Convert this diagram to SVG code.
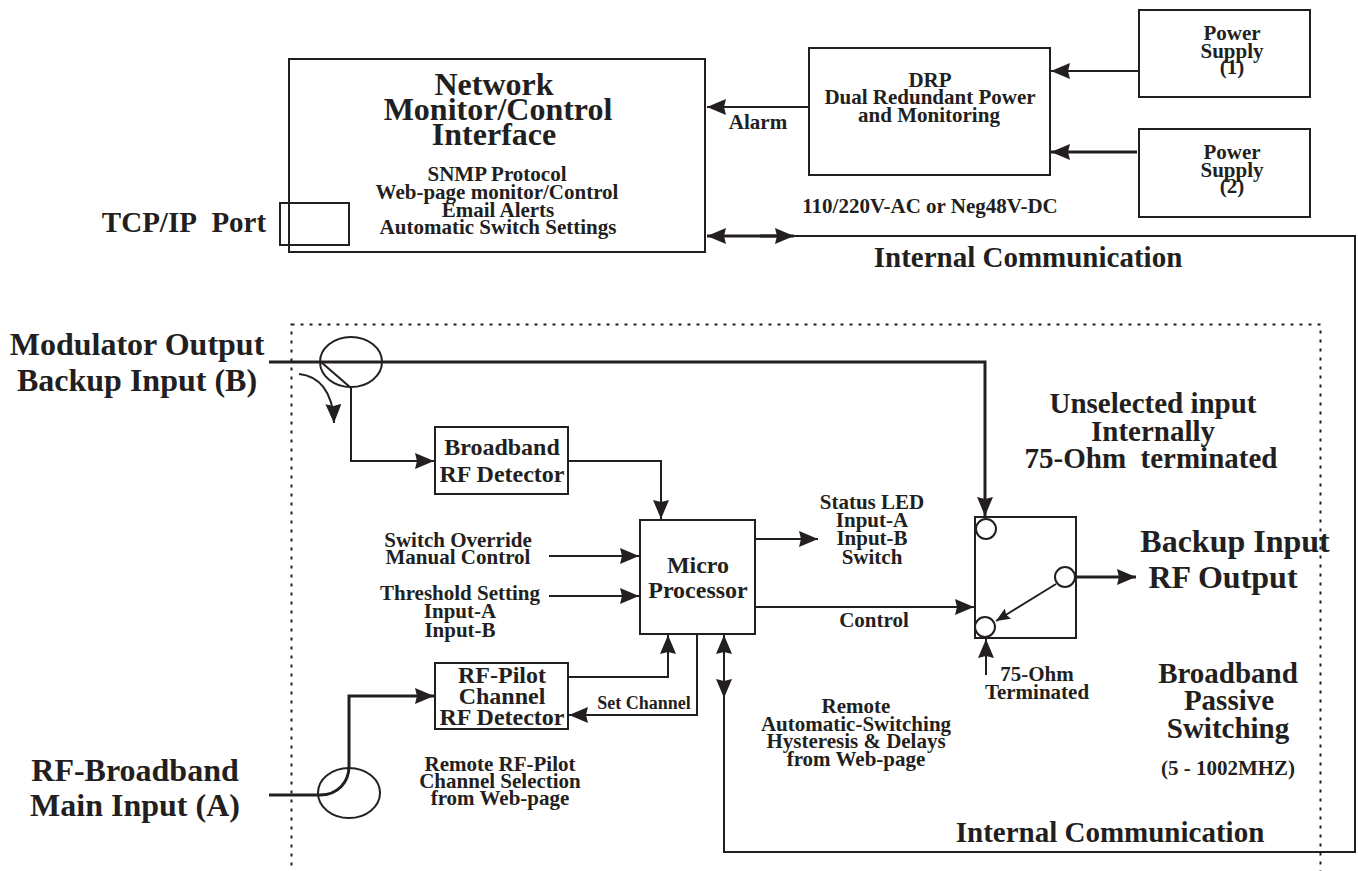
<svg xmlns="http://www.w3.org/2000/svg" width="1358" height="871" viewBox="0 0 1358 871">
<style>
text{font-family:"Liberation Serif","Times New Roman",serif;font-weight:bold;fill:#231f20;text-anchor:middle}
.box{fill:none;stroke:#231f20;stroke-width:2}
.c{fill:none;stroke:#231f20;stroke-width:2}
.t{stroke-width:3}
.h{fill:#231f20;stroke:none}
.w{fill:#fff;stroke:#231f20;stroke-width:2}
.s18{font-size:18px}.s21{font-size:21px}.s24{font-size:24px}.s29{font-size:29px}.s32{font-size:32px}
</style>
<defs>
<marker id="a" markerUnits="userSpaceOnUse" markerWidth="20" markerHeight="16" refX="19" refY="8" orient="auto"><path d="M0,0L19,8L0,16L2,8Z" class="h"/></marker>
<marker id="b" markerUnits="userSpaceOnUse" markerWidth="15" markerHeight="12" refX="14" refY="6" orient="auto"><path d="M0,0L14,6L0,12L2,6Z" class="h"/></marker>
</defs>
<rect width="1358" height="871" fill="#fff"/>
<g id="border"><rect x="291.500" y="324.500" width="1029" height="560" fill="none" stroke="#231f20" stroke-width="2" stroke-dasharray="3 6"/></g>
<g id="connectors">
<path class="c" d="M1139,71H1051" marker-end="url(#a)"/>
<path class="c t" d="M1137,152H1051" marker-end="url(#a)"/>
<path class="c" d="M809,107H707" marker-end="url(#a)"/>
<path class="c t" d="M790,236H707" marker-end="url(#a)"/>
<path class="c t" d="M760,236H794" marker-end="url(#a)"/>
<path class="c" d="M794,236H1355V852H724V635" marker-end="url(#a)"/>
<path class="c" d="M724,660V698" marker-end="url(#a)"/>
<path class="c t" d="M269,362H985V516" marker-end="url(#a)"/>
<path class="c" d="M321,362L351,388V461H434" marker-end="url(#a)"/>
<path class="c" d="M299,374C318,376 333,390 334,423" marker-end="url(#a)"/>
<path class="c" d="M568,461H661V519" marker-end="url(#a)"/>
<path class="c" d="M549,556H639" marker-end="url(#a)"/>
<path class="c" d="M549,596H639" marker-end="url(#a)"/>
<path class="c" d="M568,677H668V635" marker-end="url(#a)"/>
<path class="c" d="M697,634V715H569" marker-end="url(#a)"/>
<path class="c" d="M755,539H818" marker-end="url(#a)"/>
<path class="c" d="M755,607H974" marker-end="url(#a)"/>
<path class="c t" d="M1077,577H1136" marker-end="url(#a)"/>
<path class="c" d="M1056,584L996,621" marker-end="url(#b)"/>
<path class="c" d="M986,675V639" marker-end="url(#a)"/>
<path class="c t" d="M269,795H320C338,795 349,782 349,766V696H434" marker-end="url(#a)"/>
</g>
<g id="network-interface"><rect class="box" x="289" y="59" width="416" height="193"/>
<text class="s32" x="494" y="95">Network</text><text class="s32" x="498" y="120">Monitor/Control</text><text class="s32" x="494" y="145">Interface</text>
<text class="s21" x="497" y="181">SNMP Protocol</text><text class="s21" x="497" y="199">Web-page monitor/Control</text><text class="s21" x="498" y="217">Email Alerts</text><text class="s21" x="498" y="234">Automatic Switch Settings</text></g>
<g id="tcp-port"><rect class="box" x="280" y="203" width="69" height="42"/><text class="s29" x="184" y="232">TCP/IP&#160;&#160;Port</text></g>
<g id="drp"><rect class="box" x="809" y="48" width="241" height="127"/>
<text class="s21" x="930" y="87">DRP</text><text class="s21" x="930" y="104">Dual Redundant Power</text><text class="s21" x="929" y="122">and Monitoring</text></g>
<g id="ps1"><rect class="box" x="1139" y="10" width="171" height="87"/><text class="s21" x="1232" y="40">Power</text><text class="s21" x="1232" y="58">Supply</text><text class="s21" x="1232" y="74">(1)</text></g>
<g id="ps2"><rect class="box" x="1139" y="129" width="171" height="88"/><text class="s21" x="1232" y="159">Power</text><text class="s21" x="1232" y="177">Supply</text><text class="s21" x="1232" y="193">(2)</text></g>
<g id="labels-top">
<text class="s21" x="758" y="129">Alarm</text>
<text class="s21" x="930" y="213">110/220V-AC or Neg48V-DC</text>
<text class="s29" x="1028" y="267">Internal Communication</text>
</g>
<g id="input-b"><ellipse class="box" cx="351" cy="362" rx="31" ry="25"/><text class="s32" x="137" y="355">Modulator Output</text><text class="s32" x="137" y="391">Backup Input (B)</text></g>
<g id="input-a"><ellipse class="box" cx="349" cy="793" rx="31" ry="25"/><text class="s32" x="135" y="781">RF-Broadband</text><text class="s32" x="135" y="816">Main Input (A)</text></g>
<g id="rf-detector"><rect class="box" x="435" y="427" width="133" height="67"/><text class="s24" x="502" y="455">Broadband</text><text class="s24" x="502" y="482">RF Detector</text></g>
<g id="pilot-detector"><rect class="box" x="435" y="663" width="133" height="66"/><text class="s24" x="502" y="683">RF-Pilot</text><text class="s24" x="502" y="704">Channel</text><text class="s24" x="502" y="725">RF Detector</text></g>
<g id="micro"><rect class="box" x="640" y="520" width="115" height="114"/><text class="s24" x="698" y="573">Micro</text><text class="s24" x="698" y="598">Processor</text></g>
<g id="switch"><rect class="box" x="975" y="517" width="101" height="121"/>
<circle class="w" cx="986" cy="529" r="10"/><circle class="w" cx="1065" cy="577" r="10"/><circle class="w" cx="985" cy="627" r="10"/></g>
<g id="labels">
<text class="s21" x="458" y="547">Switch Override</text><text class="s21" x="458" y="564">Manual Control</text>
<text class="s21" x="460" y="600">Threshold Setting</text><text class="s21" x="460" y="618">Input-A</text><text class="s21" x="460" y="637">Input-B</text>
<text class="s21" x="872" y="509">Status LED</text><text class="s21" x="872" y="527">Input-A</text><text class="s21" x="872" y="545">Input-B</text><text class="s21" x="872" y="564">Switch</text>
<text class="s21" x="874" y="627">Control</text>
<text class="s18" x="644" y="709">Set Channel</text>
<text class="s21" x="500" y="771">Remote RF-Pilot</text><text class="s21" x="500" y="788">Channel Selection</text><text class="s21" x="500" y="805">from Web-page</text>
<text class="s21" x="856" y="713">Remote</text><text class="s21" x="856" y="731">Automatic-Switching</text><text class="s21" x="856" y="748">Hysteresis &amp; Delays</text><text class="s21" x="856" y="766">from Web-page</text>
<text class="s21" x="1037" y="681">75-Ohm</text><text class="s21" x="1037" y="699">Terminated</text>
<text class="s29" x="1153" y="413">Unselected input</text><text class="s29" x="1153" y="441">Internally</text><text class="s29" x="1151" y="468">75-Ohm&#160;&#160;terminated</text>
<text class="s32" x="1235" y="552">Backup Input</text><text class="s32" x="1223" y="588">RF Output</text>
<text class="s29" x="1228" y="683">Broadband</text><text class="s29" x="1229" y="710">Passive</text><text class="s29" x="1228" y="738">Switching</text>
<text class="s21" x="1228" y="775">(5 - 1002MHZ)</text>
<text class="s29" x="1110" y="842">Internal Communication</text>
</g>
</svg>
